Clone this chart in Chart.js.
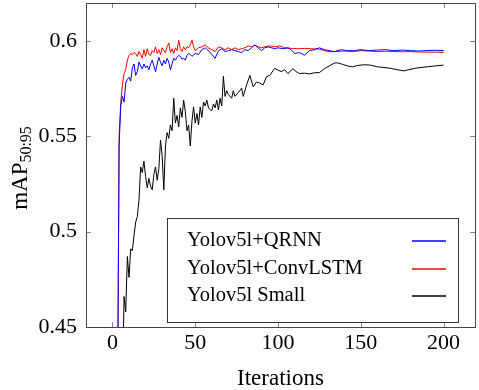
<!DOCTYPE html>
<html>
<head>
<meta charset="utf-8">
<script src="https://cdn.jsdelivr.net/npm/chart.js@4.4.0/dist/chart.umd.min.js"></script>
<style>
  html, body { margin: 0; padding: 0; background: #fff; }
  #wrap { width: 479px; height: 390px; position: relative; }
</style>
</head>
<body>
<div id="wrap"><canvas id="myChart" width="479" height="390"></canvas></div>
<script>
// values
const xTicks = [0, 50, 100, 150, 200];
const xTickLabels = ['0', '50', '100', '150', '200'];
const yTicks = [0.45, 0.5, 0.55, 0.6];
const yTickLabels = ['0.45', '0.5', '0.55', '0.6'];

const seriesNames = ['Yolov5l+QRNN', 'Yolov5l+ConvLSTM', 'Yolov5l Small'];
const seriesColors = ['#0000ff', '#ff0000', '#000000'];

const qrnnIter = [3,4,5,6,7,8,9,10,11,12,13,14,15,16,17,18,19,20,21,22,23,24,25,26,27,28,29,30,
  31,32,33,34,35,36,37,38,39,40,41,42,43,44,45,46,47,48,50,52,54,56,58,60,62,64,66,68,70,72,74,76,
  78,80,82,84,86,88,90,92,94,96,98,100,103,106,108,110,113,116,119,122,125,128,131,134,138,142,146,
  150,155,160,165,170,175,180,185,190,195,200];
const qrnnMap = [0.40,0.545,0.566,0.571,0.568,0.578,0.580,0.581,0.579,0.586,0.588,0.582,0.584,0.589,
  0.587,0.5855,0.588,0.586,0.587,0.585,0.588,0.590,0.587,0.584,0.588,0.5915,0.589,0.587,0.590,0.588,
  0.591,0.589,0.585,0.588,0.591,0.590,0.5915,0.5925,0.592,0.5905,0.591,0.590,0.5925,0.5935,0.593,
  0.592,0.5935,0.593,0.5955,0.5965,0.595,0.593,0.591,0.595,0.596,0.5945,0.595,0.5955,0.595,0.5945,
  0.594,0.5955,0.595,0.5965,0.598,0.5965,0.595,0.5965,0.597,0.5965,0.596,0.5965,0.596,0.5965,0.5955,
  0.5935,0.594,0.5926,0.595,0.5955,0.5965,0.5955,0.595,0.5945,0.5955,0.595,0.595,0.5955,0.595,0.5953,
  0.5955,0.595,0.5953,0.595,0.5948,0.595,0.5952,0.595];

const lstmIter = [3,4,5,6,7,8,9,10,11,12,13,14,15,16,17,18,19,20,21,22,23,24,25,26,27,28,29,30,
  31,32,33,34,35,36,37,38,39,40,41,42,43,44,45,46,47,48,49,50,52,54,56,58,60,62,64,66,68,70,72,74,
  76,78,80,82,84,86,88,90,92,95,98,101,104,108,112,116,120,125,130,135,140,145,150,155,160,165,170,
  175,180,185,190,195,200];
const lstmMap = [0.40,0.55,0.568,0.577,0.583,0.585,0.590,0.5925,0.5935,0.593,0.594,0.5935,0.592,
  0.5945,0.593,0.591,0.5955,0.592,0.596,0.593,0.5925,0.595,0.594,0.597,0.5935,0.5955,0.593,0.5965,
  0.595,0.594,0.597,0.599,0.594,0.596,0.5935,0.5965,0.595,0.6005,0.596,0.5945,0.597,0.5955,0.597,
  0.5965,0.598,0.6005,0.597,0.595,0.5965,0.597,0.598,0.5965,0.5955,0.5945,0.597,0.5965,0.5955,0.5965,
  0.5955,0.5965,0.5955,0.596,0.5965,0.5975,0.597,0.5978,0.597,0.5965,0.597,0.5975,0.597,0.5975,
  0.5965,0.5962,0.596,0.5962,0.596,0.5958,0.5945,0.5945,0.5948,0.5945,0.595,0.5948,0.5945,0.5947,
  0.5945,0.5944,0.5945,0.5943,0.5942,0.5942,0.5941];

const smallIter = [6,7,8,9,10,11,12,13,14,15,16,17,18,19,20,21,22,23,24,25,26,27,28,29,30,31,32,33,
  34,35,36,37,38,39,40,41,42,43,44,45,46,47,48,49,50,51,52,53,54,55,56,57,58,59,60,61,62,63,64,65,
  66,67,68,69,70,72,73,74,76,78,79,81,83,85,87,89,91,93,95,97,98,100,102,104,106,109,111,113,116,
  119,122,125,128,131,134,136,139,142,145,148,152,156,160,164,168,172,176,179,183,187,191,195,200];
const smallMap = [0.42,0.466,0.458,0.487,0.476,0.491,0.490,0.498,0.505,0.508,0.5165,0.534,0.531,
  0.537,0.529,0.523,0.528,0.524,0.522,0.530,0.534,0.527,0.533,0.548,0.540,0.522,0.545,0.552,0.549,
  0.556,0.553,0.570,0.557,0.561,0.555,0.565,0.560,0.569,0.563,0.553,0.556,0.545,0.558,0.5655,0.557,
  0.562,0.556,0.5655,0.560,0.568,0.566,0.569,0.565,0.564,0.5635,0.567,0.565,0.569,0.564,0.570,0.566,
  0.5815,0.571,0.574,0.572,0.570,0.574,0.571,0.573,0.5753,0.571,0.577,0.582,0.576,0.5785,0.578,0.577,
  0.5813,0.582,0.5845,0.5857,0.5848,0.584,0.585,0.583,0.5855,0.584,0.583,0.5832,0.5828,0.5834,0.5835,
  0.5855,0.587,0.5885,0.5886,0.5878,0.587,0.5865,0.5872,0.5876,0.5874,0.5865,0.5862,0.5857,0.585,
  0.5844,0.585,0.5858,0.5862,0.5866,0.587,0.5874];

const SERIF = "'Liberation Serif', 'DejaVu Serif', serif";

const toPoints = (xs, ys) => xs.map((x, i) => ({ x: x, y: ys[i] }));

// frame, inward ticks, y title with subscript, boxed legend
const pgfPlugin = {
  id: 'pgf',
  afterDraw(chart) {
    const ctx = chart.ctx;
    const a = chart.chartArea;
    const xs = chart.scales.x, ys = chart.scales.y;
    ctx.save();
    ctx.strokeStyle = '#888';
    ctx.lineWidth = 1;
    ctx.beginPath();
    xTicks.forEach(v => {
      const px = Math.round(xs.getPixelForValue(v)) + 0.5;
      ctx.moveTo(px, a.bottom); ctx.lineTo(px, a.bottom - 5);
      ctx.moveTo(px, a.top); ctx.lineTo(px, a.top + 5);
    });
    yTicks.forEach(v => {
      const py = Math.round(ys.getPixelForValue(v)) + 0.5;
      ctx.moveTo(a.left, py); ctx.lineTo(a.left + 5, py);
      ctx.moveTo(a.right, py); ctx.lineTo(a.right - 5, py);
    });
    ctx.stroke();
    ctx.strokeStyle = '#444';
    ctx.strokeRect(Math.round(a.left) + 0.5, Math.round(a.top) + 0.5,
      Math.round(a.right - a.left), Math.round(a.bottom - a.top));

    // y axis title: mAP with subscript 50:95
    const cy = 168;
    ctx.translate(27, cy);
    ctx.rotate(-Math.PI / 2);
    ctx.fillStyle = '#000';
    ctx.textBaseline = 'alphabetic';
    ctx.font = '23px ' + SERIF;
    const mainW = ctx.measureText('mAP').width;
    ctx.font = '16px ' + SERIF;
    const subW = ctx.measureText('50:95').width;
    const startX = -(mainW + subW) / 2;
    ctx.font = '23px ' + SERIF;
    ctx.textAlign = 'left';
    ctx.fillText('mAP', startX, 0);
    ctx.font = '16px ' + SERIF;
    ctx.fillText('50:95', startX + mainW, 4);
    ctx.setTransform(1, 0, 0, 1, 0, 0);

    // legend box
    const box = { left: 167, top: 218, right: 458, bottom: 322 };
    ctx.fillStyle = '#fff';
    ctx.fillRect(box.left, box.top, box.right - box.left, box.bottom - box.top);
    ctx.strokeStyle = '#333';
    ctx.strokeRect(box.left + 0.5, box.top + 0.5, box.right - box.left, box.bottom - box.top);
    const rows = [241, 268.5, 296];
    ctx.font = '20.5px ' + SERIF;
    ctx.textBaseline = 'middle';
    ctx.textAlign = 'left';
    seriesNames.forEach((name, i) => {
      ctx.fillStyle = '#000';
      ctx.fillText(name, 187, rows[i]);
      ctx.strokeStyle = seriesColors[i];
      ctx.lineWidth = 1.3;
      ctx.beginPath();
      ctx.moveTo(412, Math.round(rows[i]));
      ctx.lineTo(446, Math.round(rows[i]));
      ctx.stroke();
    });
    ctx.restore();
  }
};

const ctx = document.getElementById('myChart').getContext('2d');
const myChart = new Chart(ctx, {
  type: 'line',
  data: {
    datasets: [
      { label: seriesNames[0], data: toPoints(qrnnIter, qrnnMap), borderColor: seriesColors[0], order: 1 },
      { label: seriesNames[1], data: toPoints(lstmIter, lstmMap), borderColor: seriesColors[1], order: 2 },
      { label: seriesNames[2], data: toPoints(smallIter, smallMap), borderColor: seriesColors[2], order: 0 }
    ]
  },
  options: {
    responsive: false,
    animation: false,
    layout: { padding: { left: 0, top: 3, right: 4, bottom: 0 } },
    elements: {
      line: { borderWidth: 1, tension: 0, fill: false },
      point: { radius: 0 }
    },
    plugins: {
      legend: { display: false },
      tooltip: { enabled: false }
    },
    scales: {
      x: {
        type: 'linear',
        min: -16,
        max: 219,
        afterBuildTicks: (s) => { s.ticks = xTicks.map(v => ({ value: v })); },
        afterFit: (s) => { s.height = 63; s.paddingLeft = 0; s.paddingRight = 0; },
        grid: { display: false, drawTicks: false },
        border: { display: false },
        ticks: {
          padding: 3,
          color: '#000',
          font: { family: SERIF, size: 22 },
          maxRotation: 0,
          callback: (v) => xTickLabels[xTicks.indexOf(v)]
        },
        title: {
          display: true,
          text: 'Iterations',
          color: '#000',
          font: { family: SERIF, size: 23 },
          padding: { top: 0, bottom: -3 }
        }
      },
      y: {
        type: 'linear',
        min: 0.45,
        max: 0.62,
        afterBuildTicks: (s) => { s.ticks = yTicks.map(v => ({ value: v })); },
        afterFit: (s) => { s.width = 86; s.paddingTop = 0; s.paddingBottom = 0; },
        grid: { display: false, drawTicks: false },
        border: { display: false },
        ticks: {
          padding: 9,
          color: '#000',
          font: { family: SERIF, size: 22 },
          callback: (v) => yTickLabels[yTicks.indexOf(v)]
        }
      }
    }
  },
  plugins: [pgfPlugin]
});
</script>
</body>
</html>
